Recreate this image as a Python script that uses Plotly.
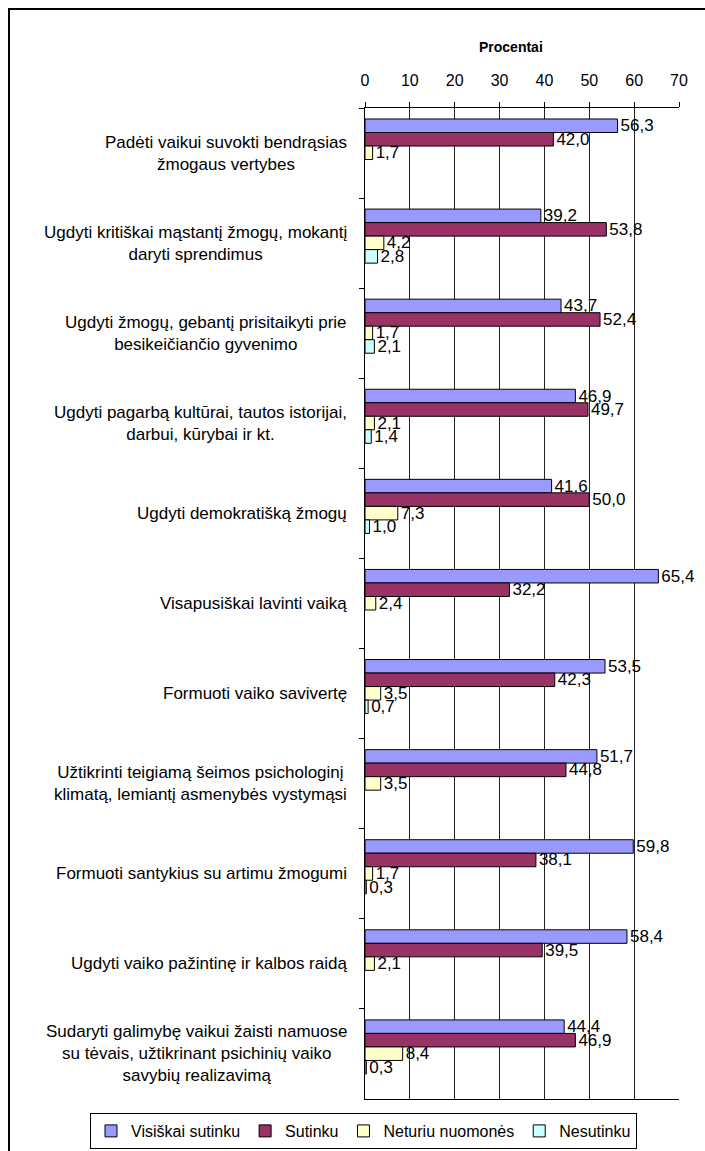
import plotly.graph_objects as go

categories = [
    "Padėti vaikui suvokti bendrąsias<br>žmogaus vertybes",
    "Ugdyti kritiškai mąstantį žmogų, mokantį<br>daryti sprendimus",
    "Ugdyti žmogų, gebantį prisitaikyti prie<br>besikeičiančio gyvenimo",
    "Ugdyti pagarbą kultūrai, tautos istorijai,<br>darbui, kūrybai ir kt.",
    "Ugdyti demokratišką žmogų",
    "Visapusiškai lavinti vaiką",
    "Formuoti vaiko savivertę",
    "Užtikrinti teigiamą šeimos psichologinį<br>klimatą, lemiantį asmenybės vystymąsi",
    "Formuoti santykius su artimu žmogumi",
    "Ugdyti vaiko pažintinę ir kalbos raidą",
    "Sudaryti galimybę vaikui žaisti namuose<br>su tėvais, užtikrinant psichinių vaiko<br>savybių realizavimą",
]

visiskai_sutinku = [56.3, 39.2, 43.7, 46.9, 41.6, 65.4, 53.5, 51.7, 59.8, 58.4, 44.4]
sutinku = [42.0, 53.8, 52.4, 49.7, 50.0, 32.2, 42.3, 44.8, 38.1, 39.5, 46.9]
neturiu_nuomones = [1.7, 4.2, 1.7, 2.1, 7.3, 2.4, 3.5, 3.5, 1.7, 2.1, 8.4]
nesutinku = [None, 2.8, 2.1, 1.4, 1.0, None, 0.7, None, 0.3, None, 0.3]

series_names = ["Visiškai sutinku", "Sutinku", "Neturiu nuomonės", "Nesutinku"]
series_values = [visiskai_sutinku, sutinku, neturiu_nuomones, nesutinku]
series_colors = ["#9999FF", "#993366", "#FFFFCC", "#CCFFFF"]

x_ticks = [0, 10, 20, 30, 40, 50, 60, 70]
x_title = "Procentai"

FONT = "Liberation Sans, Arial, sans-serif"

W, H = 705, 1151
ML, MR, MT, MB = 365, 26, 108, 52
PW = W - ML - MR
PH = H - MT - MB


def px_x(px):
    return (px - ML) / PW


def px_y(py):
    return (H - MB - py) / PH


def fmt(v):
    return None if v is None else f"{v:.1f}".replace(".", ",")


fig = go.Figure()
bar_w = 0.15
offsets = [-0.378, -0.228, -0.078, 0.072]
for name, vals, col, off in zip(series_names, series_values, series_colors, offsets):
    fig.add_trace(go.Bar(
        y=categories, x=vals, orientation="h", name=name,
        marker=dict(color=col, line=dict(color="black", width=1)),
        width=bar_w, offset=off,
        text=[fmt(v) for v in vals], textposition="outside",
        textfont=dict(family=FONT, size=17, color="black"),
        constraintext="none", cliponaxis=False,
    ))

annotations = [
    dict(text=c, x=px_x(349), xref="paper", y=c, yref="y", xanchor="right",
         yanchor="middle", align="center", showarrow=False,
         font=dict(family=FONT, size=17, color="black"))
    for c in categories
]
annotations.append(dict(text=f"<b>{x_title}</b>", x=px_x(511), xref="paper", y=px_y(47), yref="paper",
                        xanchor="center", yanchor="middle", showarrow=False,
                        font=dict(family=FONT, size=14, color="black")))

fig.update_layout(
    width=W, height=H,
    margin=dict(l=ML, r=MR, t=MT, b=MB, pad=0, autoexpand=False),
    paper_bgcolor="white", plot_bgcolor="white",
    barmode="group",
    font=dict(family=FONT, size=16, color="black"),
    showlegend=True,
    legend=dict(orientation="h", x=px_x(90), xanchor="left", y=px_y(1113), yanchor="top",
                bordercolor="black", borderwidth=1, bgcolor="white",
                font=dict(family=FONT, size=16, color="black"),
                itemwidth=30, tracegroupgap=0, traceorder="normal"),
    annotations=annotations,
    shapes=[dict(type="rect", xref="paper", yref="paper",
                 x0=px_x(9), x1=px_x(720), y0=px_y(1170), y1=px_y(9),
                 line=dict(color="black", width=2), fillcolor="rgba(0,0,0,0)", layer="below")],
)

fig.update_xaxes(
    range=[0, 70], tickvals=x_ticks, side="top",
    showgrid=True, gridcolor="#222222", gridwidth=1,
    showline=True, linecolor="black", linewidth=1, mirror=True,
    ticks="outside", ticklen=5, tickcolor="black",
    ticklabelstandoff=10,
    tickfont=dict(family=FONT, size=16, color="black"),
    zeroline=False, fixedrange=True,
)
fig.update_yaxes(
    type="category", categoryorder="array", categoryarray=categories,
    autorange="reversed", showticklabels=False,
    ticks="outside", ticklen=5, tickcolor="black", tickson="boundaries",
    showline=True, linecolor="black", linewidth=1, showgrid=False,
    fixedrange=True,
)

fig.write_html("out.html", config={"displayModeBar": False},
               post_script="document.body.style.margin='0';document.body.style.overflow='hidden';")
